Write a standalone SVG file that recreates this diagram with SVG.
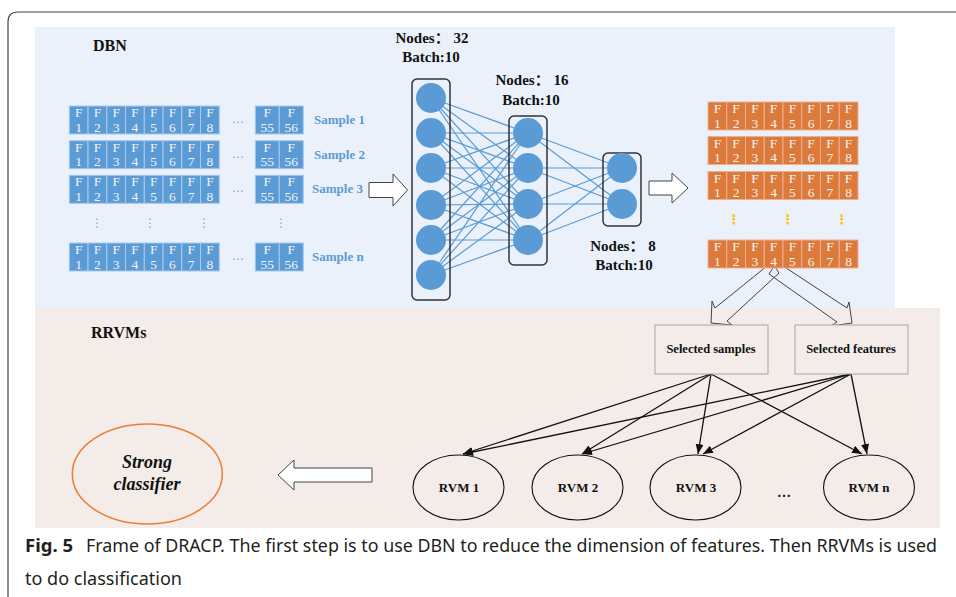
<svg xmlns="http://www.w3.org/2000/svg" xmlns:xlink="http://www.w3.org/1999/xlink" width="956" height="597" viewBox="0 0 956 597">
<style>
.cellB{fill:#5b9bd5;stroke:#a9c9ec;stroke-width:1}
.cellO{fill:#dc7a3c;stroke:#eeb08c;stroke-width:1}
.ct{font-family:"Liberation Serif",serif;font-size:13.5px;fill:#f3f3f3;text-anchor:middle}
.lbl{font-family:"Liberation Serif","Noto Sans CJK SC",serif;font-weight:bold;fill:#111}
.samp{font-family:"Liberation Serif",serif;font-weight:bold;font-size:13px;fill:#5b9bd5}
.nn{stroke:#5b9bd5;stroke-width:1.2}
.box{fill:none;stroke:#333;stroke-width:1.5}
.neuron{fill:#5b9bd5}
.hollow{fill:#fff;stroke:#444;stroke-width:1}
.hollowN{fill:none;stroke:#444;stroke-width:1}
.sel{fill:#f4ece8;stroke:#a6a6a6;stroke-width:1}
.rvm{fill:none;stroke:#111;stroke-width:1.1}
.edge{stroke:#111;stroke-width:1.3;fill:none}
.dotsB{font-family:"DejaVu Sans",sans-serif;font-size:12px;fill:#7ea9dc;text-anchor:middle}
.dotsO{font-family:"DejaVu Sans",sans-serif;font-size:13px;fill:#ffc000;text-anchor:middle;font-weight:bold}
.cap{font-family:"Noto Sans",sans-serif;font-size:18px;fill:#231f20}
</style>
<defs>
<marker id="ah" viewBox="0 0 10 8" refX="10" refY="4" markerWidth="10" markerHeight="8" markerUnits="userSpaceOnUse" orient="auto">
<path d="M0,0 L10,4 L0,8 Z" fill="#111"/>
</marker>
<g id="rowBlue">
<rect class="cellB" x="69.3" y="0" width="18.75" height="28"/>
<rect class="cellB" x="88.05" y="0" width="18.75" height="28"/>
<rect class="cellB" x="106.8" y="0" width="18.75" height="28"/>
<rect class="cellB" x="125.55" y="0" width="18.75" height="28"/>
<rect class="cellB" x="144.3" y="0" width="18.75" height="28"/>
<rect class="cellB" x="163.05" y="0" width="18.75" height="28"/>
<rect class="cellB" x="181.8" y="0" width="18.75" height="28"/>
<rect class="cellB" x="200.55" y="0" width="18.75" height="28"/>
<rect class="cellB" x="255.3" y="0" width="24" height="28"/>
<rect class="cellB" x="279.3" y="0" width="24" height="28"/>
<text class="ct" y="11"><tspan x="78.7">F</tspan><tspan x="97.4">F</tspan><tspan x="116.2">F</tspan><tspan x="134.9">F</tspan><tspan x="153.7">F</tspan><tspan x="172.4">F</tspan><tspan x="191.2">F</tspan><tspan x="209.9">F</tspan><tspan x="267.3">F</tspan><tspan x="291.3">F</tspan></text>
<text class="ct" y="25.5"><tspan x="78.7">1</tspan><tspan x="97.4">2</tspan><tspan x="116.2">3</tspan><tspan x="134.9">4</tspan><tspan x="153.7">5</tspan><tspan x="172.4">6</tspan><tspan x="191.2">7</tspan><tspan x="209.9">8</tspan><tspan x="267.3">55</tspan><tspan x="291.3">56</tspan></text>
<text class="dotsB" x="238" y="17">…</text>
</g>
<g id="rowOrange">
<rect class="cellO" x="708" y="0" width="18.75" height="28"/>
<rect class="cellO" x="726.75" y="0" width="18.75" height="28"/>
<rect class="cellO" x="745.5" y="0" width="18.75" height="28"/>
<rect class="cellO" x="764.25" y="0" width="18.75" height="28"/>
<rect class="cellO" x="783" y="0" width="18.75" height="28"/>
<rect class="cellO" x="801.75" y="0" width="18.75" height="28"/>
<rect class="cellO" x="820.5" y="0" width="18.75" height="28"/>
<rect class="cellO" x="839.25" y="0" width="18.75" height="28"/>
<text class="ct" y="11"><tspan x="717.4">F</tspan><tspan x="736.1">F</tspan><tspan x="754.9">F</tspan><tspan x="773.6">F</tspan><tspan x="792.4">F</tspan><tspan x="811.1">F</tspan><tspan x="829.9">F</tspan><tspan x="848.6">F</tspan></text>
<text class="ct" y="25.5"><tspan x="717.4">1</tspan><tspan x="736.1">2</tspan><tspan x="754.9">3</tspan><tspan x="773.6">4</tspan><tspan x="792.4">5</tspan><tspan x="811.1">6</tspan><tspan x="829.9">7</tspan><tspan x="848.6">8</tspan></text>
</g>
</defs>

<rect width="956" height="597" fill="#fff"/>
<path d="M8,597 L8,22 Q8,12 18,12 L956,12" fill="none" stroke="#444" stroke-width="1.2"/>

<g id="panels">
<rect x="35" y="27" width="860" height="281" fill="#eaf1fa"/>
<rect x="35" y="308" width="905" height="220" fill="#f4ece8"/>
<text class="lbl" x="93" y="51" font-size="16">DBN</text>
<text class="lbl" x="91" y="338" font-size="16">RRVMs</text>
</g>

<g id="input-samples">
<use id="sample-1" xlink:href="#rowBlue" y="106"/>
<use id="sample-2" xlink:href="#rowBlue" y="140.7"/>
<use id="sample-3" xlink:href="#rowBlue" y="175.3"/>
<use id="sample-n" xlink:href="#rowBlue" y="243"/>
<text class="samp" x="314" y="124">Sample 1</text>
<text class="samp" x="314" y="158.7">Sample 2</text>
<text class="samp" x="312" y="193.3">Sample 3</text>
<text class="samp" x="312" y="261">Sample n</text>
<text class="dotsB" x="97" y="227">⋮</text>
<text class="dotsB" x="150" y="227">⋮</text>
<text class="dotsB" x="204" y="227">⋮</text>
<text class="dotsB" x="281" y="227">⋮</text>
</g>

<g id="connectors">
<g id="nn-edges-1-2" class="nn">
<line x1="431" y1="98" x2="528" y2="133"/><line x1="431" y1="98" x2="528" y2="168"/><line x1="431" y1="98" x2="528" y2="204"/><line x1="431" y1="98" x2="528" y2="240"/>
<line x1="431" y1="133" x2="528" y2="133"/><line x1="431" y1="133" x2="528" y2="168"/><line x1="431" y1="133" x2="528" y2="204"/><line x1="431" y1="133" x2="528" y2="240"/>
<line x1="431" y1="168" x2="528" y2="133"/><line x1="431" y1="168" x2="528" y2="168"/><line x1="431" y1="168" x2="528" y2="204"/><line x1="431" y1="168" x2="528" y2="240"/>
<line x1="431" y1="205" x2="528" y2="133"/><line x1="431" y1="205" x2="528" y2="168"/><line x1="431" y1="205" x2="528" y2="204"/><line x1="431" y1="205" x2="528" y2="240"/>
<line x1="431" y1="240" x2="528" y2="133"/><line x1="431" y1="240" x2="528" y2="168"/><line x1="431" y1="240" x2="528" y2="204"/><line x1="431" y1="240" x2="528" y2="240"/>
<line x1="431" y1="275" x2="528" y2="133"/><line x1="431" y1="275" x2="528" y2="168"/><line x1="431" y1="275" x2="528" y2="204"/><line x1="431" y1="275" x2="528" y2="240"/>
</g>
<g id="nn-edges-2-3" class="nn">
<line x1="528" y1="133" x2="622" y2="168"/><line x1="528" y1="133" x2="622" y2="204"/>
<line x1="528" y1="168" x2="622" y2="168"/><line x1="528" y1="168" x2="622" y2="204"/>
<line x1="528" y1="204" x2="622" y2="168"/><line x1="528" y1="204" x2="622" y2="204"/>
<line x1="528" y1="240" x2="622" y2="168"/><line x1="528" y1="240" x2="622" y2="204"/>
</g>
<polygon id="arrow-in" class="hollow" points="369,182.5 393,182.5 393,174 407.5,190 393,206 393,197.5 369,197.5"/>
<polygon id="arrow-out" class="hollow" points="649,181 672,181 672,173 688,188 672,203 672,195 649,195"/>
<polygon id="arrow-split-left" class="hollowN" points="772,262 715,308 712,301 711,323 732,325 727,321 779,273"/>
<polygon id="arrow-split-right" class="hollowN" points="777,262 847,308 849,302 852,323 831,326 837,322 769,274"/>
<g id="rvm-edges" class="edge">
<line x1="711" y1="374" x2="463" y2="454" marker-end="url(#ah)"/>
<line x1="711" y1="374" x2="582" y2="454" marker-end="url(#ah)"/>
<line x1="711" y1="374" x2="698" y2="454" marker-end="url(#ah)"/>
<line x1="711" y1="374" x2="862" y2="454" marker-end="url(#ah)"/>
<line x1="851" y1="374" x2="463" y2="454" marker-end="url(#ah)"/>
<line x1="851" y1="374" x2="582" y2="454" marker-end="url(#ah)"/>
<line x1="851" y1="374" x2="703" y2="454" marker-end="url(#ah)"/>
<line x1="851" y1="374" x2="867" y2="454" marker-end="url(#ah)"/>
</g>
<polygon id="arrow-to-strong" class="hollow" points="372,468 294,468 294,460 278,475 294,490 294,482 372,482"/>
</g>

<g id="layer-1">
<rect class="box" x="412" y="79" width="38" height="221" rx="5"/>
<circle class="neuron" cx="431" cy="98" r="15"/><circle class="neuron" cx="431" cy="133" r="15"/><circle class="neuron" cx="431" cy="168" r="15"/><circle class="neuron" cx="431" cy="205" r="15"/><circle class="neuron" cx="431" cy="240" r="15"/><circle class="neuron" cx="431" cy="275" r="15"/>
<text class="lbl" font-size="15" text-anchor="middle" x="432" y="43">Nodes： 32</text>
<text class="lbl" font-size="15" text-anchor="middle" x="431" y="62">Batch:10</text>
</g>
<g id="layer-2">
<rect class="box" x="509" y="116" width="38" height="149" rx="5"/>
<circle class="neuron" cx="528" cy="133" r="15"/><circle class="neuron" cx="528" cy="168" r="15"/><circle class="neuron" cx="528" cy="204" r="15"/><circle class="neuron" cx="528" cy="240" r="15"/>
<text class="lbl" font-size="15" text-anchor="middle" x="532" y="85">Nodes： 16</text>
<text class="lbl" font-size="15" text-anchor="middle" x="531" y="105">Batch:10</text>
</g>
<g id="layer-3">
<rect class="box" x="603" y="153" width="38" height="73" rx="5"/>
<circle class="neuron" cx="622" cy="168" r="15"/><circle class="neuron" cx="622" cy="204" r="15"/>
<text class="lbl" font-size="15" text-anchor="middle" x="623" y="251">Nodes： 8</text>
<text class="lbl" font-size="15" text-anchor="middle" x="624" y="270">Batch:10</text>
</g>

<g id="reduced-features">
<use id="reduced-1" xlink:href="#rowOrange" y="102"/>
<use id="reduced-2" xlink:href="#rowOrange" y="136.5"/>
<use id="reduced-3" xlink:href="#rowOrange" y="171.5"/>
<use id="reduced-n" xlink:href="#rowOrange" y="240"/>
<text class="dotsO" x="734" y="224">⋮</text>
<text class="dotsO" x="788" y="224">⋮</text>
<text class="dotsO" x="842" y="224">⋮</text>
</g>

<g id="selected-samples">
<rect class="sel" x="655" y="325" width="113" height="49"/>
<text class="lbl" font-size="12.5" text-anchor="middle" x="711" y="353">Selected samples</text>
</g>
<g id="selected-features">
<rect class="sel" x="795" y="325" width="113" height="49"/>
<text class="lbl" font-size="12.5" text-anchor="middle" x="851" y="353">Selected features</text>
</g>

<g id="rvm-1"><ellipse class="rvm" cx="458.5" cy="487.5" rx="45.5" ry="32.5"/><text class="lbl" font-size="13" text-anchor="middle" x="459" y="492">RVM 1</text></g>
<g id="rvm-2"><ellipse class="rvm" cx="577.5" cy="487.5" rx="45.5" ry="32.5"/><text class="lbl" font-size="13" text-anchor="middle" x="578" y="492">RVM 2</text></g>
<g id="rvm-3"><ellipse class="rvm" cx="695.5" cy="487.5" rx="45.5" ry="32.5"/><text class="lbl" font-size="13" text-anchor="middle" x="696" y="492">RVM 3</text></g>
<text class="lbl" font-size="14" text-anchor="middle" x="784" y="497">…</text>
<g id="rvm-n"><ellipse class="rvm" cx="869" cy="487.5" rx="45.5" ry="32.5"/><text class="lbl" font-size="13" text-anchor="middle" x="869" y="492">RVM n</text></g>

<g id="strong-classifier">
<ellipse cx="147.3" cy="474" rx="75" ry="50" fill="none" stroke="#ed7d31" stroke-width="1.5"/>
<text class="lbl" font-size="18" font-style="italic" text-anchor="middle" x="147" y="468">Strong</text>
<text class="lbl" font-size="18" font-style="italic" text-anchor="middle" x="147" y="490">classifier</text>
</g>

<g id="caption">
<text class="cap" x="25" y="552" font-weight="bold" textLength="48" lengthAdjust="spacingAndGlyphs">Fig. 5</text>
<text class="cap" x="86" y="552" textLength="851" lengthAdjust="spacingAndGlyphs">Frame of DRACP. The first step is to use DBN to reduce the dimension of features. Then RRVMs is used</text>
<text class="cap" x="25" y="585" textLength="157" lengthAdjust="spacingAndGlyphs">to do classification</text>
</g>
</svg>
